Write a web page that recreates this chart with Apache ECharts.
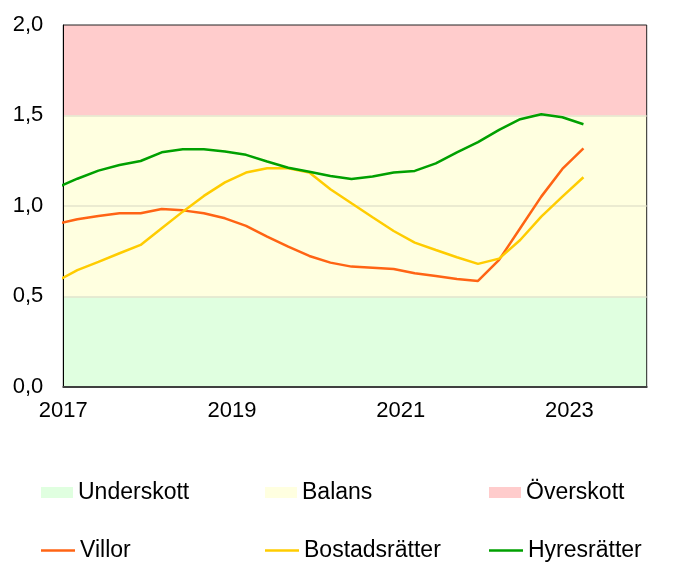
<!DOCTYPE html>
<html>
<head>
<meta charset="utf-8">
<script src="https://cdn.jsdelivr.net/npm/echarts@6/dist/echarts.min.js"></script>
<style>
    html, body { margin: 0; padding: 0; background: #fff; }
    #chart { width: 682px; height: 573px; }
</style>
</head>
<body>
<div id="chart"></div>
<script>
// kvartalsdata, månad för varje punkt (första punkten ligger före axelns start)
const dates = [
    '2016-12',
    '2017-03', '2017-06', '2017-09', '2017-12',
    '2018-03', '2018-06', '2018-09', '2018-12',
    '2019-03', '2019-06', '2019-09', '2019-12',
    '2020-03', '2020-06', '2020-09', '2020-12',
    '2021-03', '2021-06', '2021-09', '2021-12',
    '2022-03', '2022-06', '2022-09', '2022-12',
    '2023-03',
];
const villor = [0.899, 0.926, 0.944, 0.959, 0.959, 0.983, 0.975, 0.959, 0.931, 0.889, 0.830, 0.774, 0.723,
    0.686, 0.664, 0.658, 0.651, 0.627, 0.612, 0.596, 0.585, 0.701, 0.876, 1.051, 1.204, 1.318];
const bostadsratter = [0.582, 0.645, 0.690, 0.738, 0.784, 0.876, 0.968, 1.055, 1.130, 1.184, 1.208, 1.208, 1.184,
    1.092, 1.014, 0.937, 0.861, 0.797, 0.756, 0.716, 0.679, 0.708, 0.811, 0.940, 1.051, 1.158];
const hyresratter = [1.100, 1.150, 1.195, 1.226, 1.248, 1.296, 1.313, 1.313, 1.300, 1.282, 1.245, 1.211, 1.189,
    1.165, 1.149, 1.162, 1.184, 1.193, 1.235, 1.296, 1.352, 1.420, 1.479, 1.506, 1.490, 1.451];

const lineNames = ['Villor', 'Bostadsrätter', 'Hyresrätter'];
const bandNames = ['Underskott', 'Balans', 'Överskott'];
const bandLimits = [[0, 0.5], [0.5, 1.5], [1.5, 2.0]];
const xStart = '2017-01';
const xEnd = '2023-12';
const yTicks = [0, 0.5, 1.0, 1.5, 2.0];

const lineColors = ['#ff6414', '#ffcc00', '#00a000'];
const bandColors = ['#e0ffe0', '#ffffe0', '#ffcccc'];
const font = "'Liberation Sans', Arial, sans-serif";

// månad -> decimalår
const toYear = (s) => {
    const [y, m] = s.split('-').map(Number);
    return y + (m - 1) / 12;
};

const myChart = echarts.init(document.getElementById('chart'));

const bandSeries = bandNames.map((name, i) => ({
    name,
    type: 'line',
    data: [],
    itemStyle: { color: bandColors[i] },
    lineStyle: { color: bandColors[i] },
    markArea: {
        silent: true,
        z: -1,
        itemStyle: { color: bandColors[i] },
        data: [[{ yAxis: bandLimits[i][0] }, { yAxis: bandLimits[i][1] }]],
    },
}));

const lineSeries = [villor, bostadsratter, hyresratter].map((values, i) => ({
    name: lineNames[i],
    type: 'line',
    z: 3,
    symbol: 'none',
    clip: true,
    lineStyle: { color: lineColors[i], width: 2.5 },
    itemStyle: { color: lineColors[i] },
    data: values.map((v, j) => [toYear(dates[j]), v]),
}));

// en legend per ruta så att kolumnerna hamnar rakt under varandra
const colLeft = [41, 265, 489];
const rowTop = [481, 539];
const legends = [];
[bandNames, lineNames].forEach((names, r) => {
    names.forEach((name, c) => {
        legends.push({
            data: [{ name, icon: 'rect' }],
            left: colLeft[c],
            top: rowTop[r],
            padding: 0,
            itemWidth: r === 0 ? 32 : 34,
            itemHeight: r === 0 ? 11 : 2.5,
            selectedMode: false,
            textStyle: { fontFamily: font, fontSize: 23, color: '#000', lineHeight: 22 },
        });
    });
});

myChart.setOption({
    animation: false,
    grid: {
        left: 63.3,
        right: 35.3,
        top: 25,
        bottom: 186.3,
        show: true,
        borderColor: '#222',
        borderWidth: 1,
        backgroundColor: 'transparent',
    },
    legend: legends,
    xAxis: {
        type: 'value',
        min: toYear(xStart),
        max: toYear(xEnd),
        interval: 2,
        axisLine: { show: true, lineStyle: { color: '#404040', width: 2 } },
        axisTick: { show: false },
        splitLine: { show: false },
        axisLabel: {
            showMaxLabel: false,
            margin: 13,
            fontFamily: font,
            fontSize: 22,
            color: '#000',
            formatter: (v) => String(Math.round(v)),
        },
    },
    yAxis: {
        type: 'value',
        min: yTicks[0],
        max: yTicks[yTicks.length - 1],
        interval: yTicks[1] - yTicks[0],
        axisLine: { show: true, lineStyle: { color: '#000', width: 1 } },
        axisTick: { show: false },
        splitLine: {
            show: true,
            showMinLine: false,
            showMaxLine: false,
            lineStyle: { color: '#e4e4cc', width: 1.5 },
        },
        axisLabel: {
            margin: 20,
            fontFamily: font,
            fontSize: 22,
            color: '#000',
            formatter: (v) => v.toFixed(1).replace('.', ','),
        },
    },
    series: [...bandSeries, ...lineSeries],
});
</script>
</body>
</html>
